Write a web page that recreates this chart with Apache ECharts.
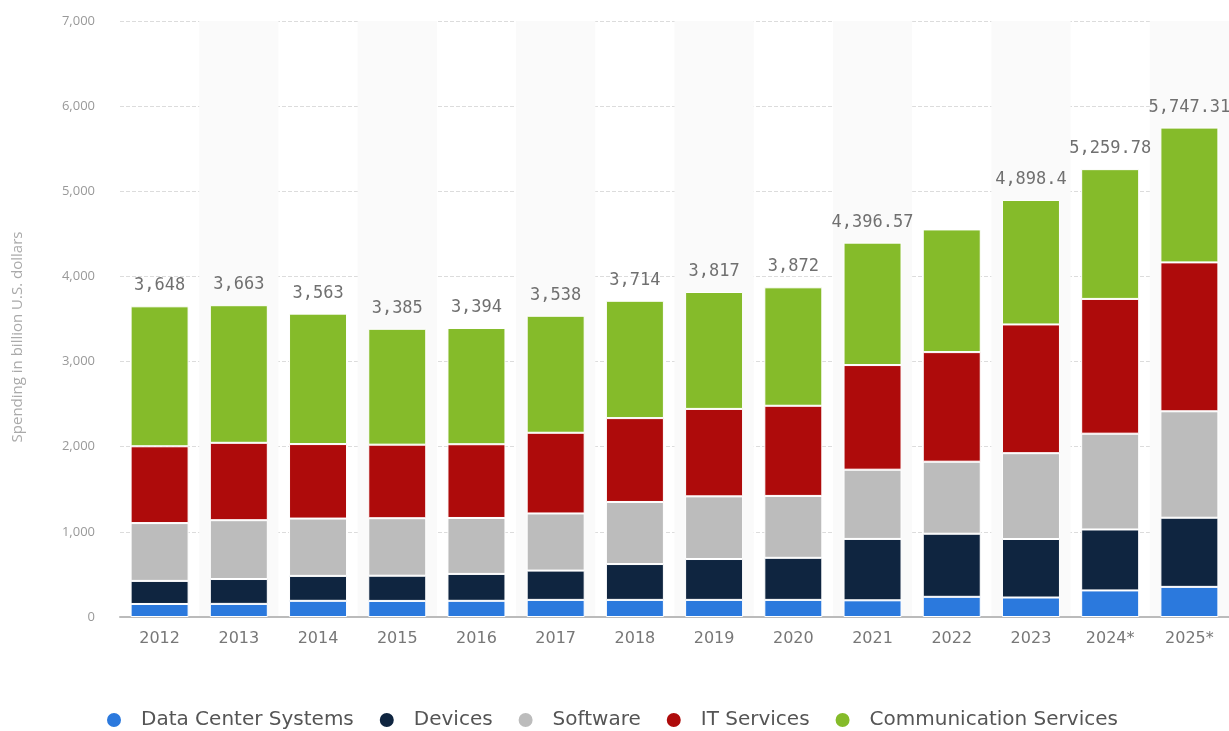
<!DOCTYPE html>
<html>
<head>
<meta charset="utf-8">
<script src="https://cdn.jsdelivr.net/npm/echarts@6/dist/echarts.min.js"></script>
<style>
html,body{margin:0;padding:0;background:#fff;}
#chart{width:1229px;height:731px;}
</style>
</head>
<body>
<div id="chart"></div>
<script>
const years = ['2012','2013','2014','2015','2016','2017','2018','2019','2020','2021','2022','2023','2024*','2025*'];
const dataCenterSystems = [153,154,190,189,190,201,201,201,201,196,237,229,312,354];
const devices = [271,292,293,296,316,344,421,480,494,721,741,687,716,812];
const software = [679,691,673,675,657,671,729,736,727,813,846,1008,1125,1250];
const itServices = [902,909,875,864,866,948,985,1027,1059,1229,1287,1512,1583,1749];
const communicationServices = [1644,1616,1532,1361,1365,1374,1378,1373,1391,1438,1441,1462,1524,1583];
const totals = [3648,3663,3563,3385,3394,3538,3714,3817,3872,4396.57,null,4898.4,5259.78,5747.31];
const yTicks = [0,1000,2000,3000,4000,5000,6000,7000];

const seriesNames = ['Data Center Systems','Devices','Software','IT Services','Communication Services'];
const seriesData = [dataCenterSystems, devices, software, itServices, communicationServices];
const colors = ['#2b79dd','#0f2540','#bcbcbc','#ae0b0b','#85bb2a'];

const chart = echarts.init(document.getElementById('chart'));
const fmt = v => v.toLocaleString('en-US',{maximumFractionDigits:2});

const series = seriesNames.map((name,i)=>({
  name: name,
  type: 'bar',
  stack: 'total',
  barWidth: 58,
  data: seriesData[i],
  itemStyle: {color: colors[i], borderColor:'#ffffff', borderWidth:1},
  label: i === seriesNames.length-1 ? {
    show: true,
    position: 'top',
    distance: 12,
    fontFamily: 'DejaVu Sans Mono',
    fontSize: 17,
    color: '#707070',
    formatter: p => totals[p.dataIndex] == null ? '' : fmt(totals[p.dataIndex])
  } : {show:false}
}));

chart.setOption({
  animation: false,
  backgroundColor: '#fff',
  color: colors,
  grid: {left: 120, top: 21, width: 1117, height: 596},
  legend: {
    left: 100,
    top: 705,
    icon: 'circle',
    itemWidth: 16,
    itemHeight: 16,
    itemGap: 24,
    textStyle: {fontFamily: 'DejaVu Sans', fontSize: 20, color: '#555', padding: [0,0,0,14]},
    data: seriesNames
  },
  graphic: [{
    type: 'text',
    x: 18,
    y: 337,
    rotation: Math.PI/2,
    style: {
      text: 'Spending in billion U.S. dollars',
      fontFamily: 'Open Sans',
      fontSize: 15,
      fill: '#aaa',
      textAlign: 'center',
      textVerticalAlign: 'middle'
    }
  }],
  xAxis: {
    type: 'category',
    data: years,
    axisLine: {lineStyle: {color: '#bbb', width: 2}},
    axisTick: {show: false},
    axisLabel: {fontFamily: 'DejaVu Sans', fontSize: 16, color: '#777', margin: 14},
    splitArea: {show: true, areaStyle: {color: ['rgba(255,255,255,0)', '#fafafa']}}
  },
  yAxis: {
    type: 'value',
    min: yTicks[0],
    max: yTicks[yTicks.length-1],
    interval: 1000,
    axisLine: {show: false},
    axisTick: {show: false},
    axisLabel: {fontFamily: 'Open Sans', fontSize: 13, color: '#999', margin: 25, formatter: v => fmt(v)},
    splitLine: {lineStyle: {color: '#dcdcdc', type: 'dashed'}}
  },
  series: series
});
</script>
</body>
</html>
